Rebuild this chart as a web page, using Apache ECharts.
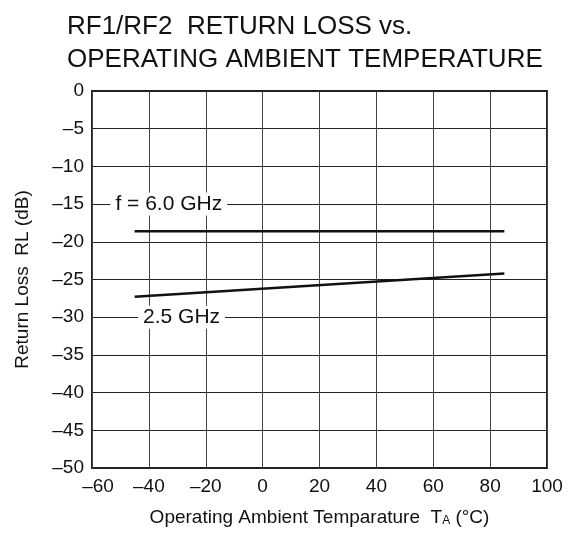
<!DOCTYPE html>
<html><head><meta charset="utf-8">
<script src="https://cdn.jsdelivr.net/npm/echarts@6/dist/echarts.min.js"></script>
<style>html,body{margin:0;padding:0;background:#fff}#c{width:573px;height:533px}</style>
</head><body><div id="c"></div>
<script>
const titleLines = ['RF1/RF2  RETURN LOSS vs.', 'OPERATING AMBIENT TEMPERATURE'];
const xTicks = [-60, -40, -20, 0, 20, 40, 60, 80, 100];
const yTicks = [0, -5, -10, -15, -20, -25, -30, -35, -40, -45, -50];
const tempX = [-45, 85];
const rl6GHz = [-18.6, -18.6];
const rl25GHz = [-27.3, -24.2];
const labelText = ['f = 6.0 GHz', '2.5 GHz'];
const labelX = [-33, -28.5];
const labelY = [-15, -30];

const FONT = '"Liberation Sans", Arial, sans-serif';
const dash = v => String(v).replace('-', '\u2013');
const chart = echarts.init(document.getElementById('c'));
chart.setOption({
  animation: false,
  backgroundColor: '#fff',
  title: {
    text: titleLines.join('\n'), left: 62, top: 5,
    textStyle: {fontFamily: FONT, fontSize: 26, fontWeight: 'normal', color: '#111', lineHeight: 33}
  },
  grid: {left: 92, top: 91, right: 26, bottom: 65, show: true, borderColor: '#222', borderWidth: 2, backgroundColor: 'transparent'},
  xAxis: {
    type: 'value', min: xTicks[0], max: xTicks[xTicks.length - 1], interval: 20,
    axisLine: {show: false}, axisTick: {show: false},
    splitLine: {show: true, lineStyle: {color: '#444', width: 1}},
    axisLabel: {fontFamily: FONT, fontSize: 19, color: '#111', margin: 9,
      formatter: v => v === xTicks[0] ? '{p|' + dash(v) + '}' : dash(v),
      rich: {p: {fontFamily: FONT, fontSize: 19, color: '#111', padding: [0, 0, 0, 12]}}},
    name: '{m|Operating Ambient Temparature  T}{s|A}{m| (°C)}',
    nameLocation: 'middle', nameGap: 40,
    nameTextStyle: {rich: {m: {fontFamily: FONT, fontSize: 19, color: '#111'}, s: {fontFamily: FONT, fontSize: 12, color: '#111', verticalAlign: 'bottom'}}}
  },
  yAxis: {
    type: 'value', min: yTicks[yTicks.length - 1], max: yTicks[0], interval: 5,
    axisLine: {show: false}, axisTick: {show: false},
    splitLine: {show: true, lineStyle: {color: '#222', width: 1}},
    axisLabel: {fontFamily: FONT, fontSize: 19, color: '#111', margin: 8, formatter: v => dash(v)},
    name: 'Return Loss  RL (dB)', nameLocation: 'middle', nameGap: 60, nameRotate: 90,
    nameTextStyle: {fontFamily: FONT, fontSize: 19, color: '#111'}
  },
  series: [
    {type: 'line', data: tempX.map((x, i) => [x, rl6GHz[i]]), symbol: 'none', lineStyle: {color: '#111', width: 2.5}, z: 3},
    {type: 'line', data: tempX.map((x, i) => [x, rl25GHz[i]]), symbol: 'none', lineStyle: {color: '#111', width: 2.5}, z: 3},
    {type: 'scatter', symbolSize: 0, z: 5, itemStyle: {opacity: 1},
     data: labelX.map((x, i) => ({value: [x, labelY[i]], name: labelText[i]})),
     label: {show: true, position: 'inside', formatter: p => p.name, fontFamily: FONT, fontSize: 21, color: '#111', backgroundColor: '#fff', padding: [1, 5, 1, 5]}}
  ]
});
</script></body></html>
